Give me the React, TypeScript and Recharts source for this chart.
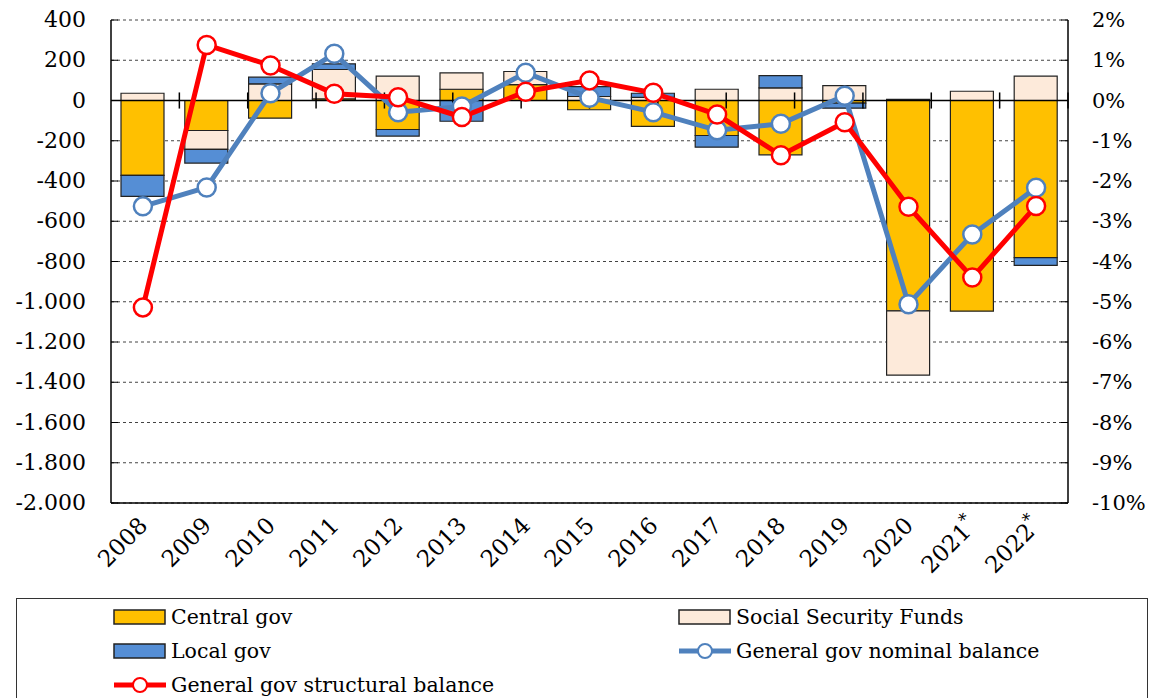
import React from "react";
import {
  ComposedChart,
  Bar,
  Line,
  XAxis,
  YAxis,
  CartesianGrid,
  ReferenceLine,
} from "recharts";

const years = ["2008", "2009", "2010", "2011", "2012", "2013", "2014", "2015", "2016", "2017", "2018", "2019", "2020", "2021*", "2022*"];
const centralGov = [-372, -149, -88, 8, -144, 56, 79, -46, -129, -174, -270, -13, -1045, -1047, -781];
const socialFunds = [36, -94, 83, 146, 121, 81, 65, 20, 16, 56, 63, 74, -320, 46, 121];
const localGov = [-104, -68, 33, 28, -33, -103, 0, 49, 20, -58, 61, -25, 6, 0, -38];
const nominalBal = [-2.63, -2.16, 0.18, 1.16, -0.29, -0.15, 0.69, 0.07, -0.29, -0.74, -0.58, 0.12, -5.06, -3.33, -2.17];
const structuralBal = [-5.14, 1.38, 0.87, 0.17, 0.08, -0.41, 0.22, 0.5, 0.19, -0.35, -1.36, -0.54, -2.64, -4.4, -2.62];

const leftTicks = [400, 200, 0, -200, -400, -600, -800, -1000, -1200, -1400, -1600, -1800, -2000];
const rightTicks = [2, 1, 0, -1, -2, -3, -4, -5, -6, -7, -8, -9, -10];
const boundaries = [1, 2, 3, 4, 5, 6, 7, 8, 9, 10, 11, 12, 13, 14];

const FONT = "'DejaVu Serif', serif";
const C_CENTRAL = "#FFC000";
const C_SOCIAL = "#FDEADA";
const C_LOCAL = "#558ED5";
const C_NOMINAL = "#4F81BD";
const C_STRUCT = "#FF0000";

const data = years.map((y, i) => ({
  year: y,
  central: centralGov[i],
  social: socialFunds[i],
  local: localGov[i],
  nominal: nominalBal[i],
  structural: structuralBal[i],
}));

const fmtThousands = (v: number) => {
  const s = String(Math.abs(v)).replace(/\B(?=(\d{3})+(?!\d))/g, ".");
  return v < 0 ? `-${s}` : s;
};

const LeftTick = ({ x, y, payload }: any) => (
  <g>
    <line x1={x + 25} x2={x + 32} y1={y} y2={y} stroke="#000" />
    <text x={x} y={y} dy={7} textAnchor="end" fontFamily={FONT} fontSize={22} fill="#000">
      {fmtThousands(payload.value)}
    </text>
  </g>
);

const RightTick = ({ x, y, payload }: any) => (
  <g>
    <line x1={x - 24} x2={x - 31} y1={y} y2={y} stroke="#000" />
    <text x={x} y={y} dy={7} textAnchor="start" fontFamily={FONT} fontSize={21} fill="#000">
      {`${payload.value}%`}
    </text>
  </g>
);

const YearTick = ({ x, y, payload }: any) => {
  const label = String(payload.value);
  const star = label.endsWith("*");
  const base = star ? label.slice(0, -1) : label;
  const tx = x + 6;
  const ty = y + 24;
  return (
    <text
      x={tx}
      y={ty}
      textAnchor="end"
      transform={`rotate(-45, ${tx}, ${ty})`}
      fontFamily={FONT}
      fontSize={23}
      fill="#000"
    >
      {base}
      {star && (
        <tspan fontSize={17} dy={-10}>
          *
        </tspan>
      )}
    </text>
  );
};

const Dot = (color: string) => (props: any) => {
  const { cx, cy, index } = props;
  if (cx == null || cy == null) return null;
  return <circle key={index} cx={cx} cy={cy} r={9} fill="#fff" stroke={color} strokeWidth={2.5} />;
};

const Swatch = ({ fill }: { fill: string }) => (
  <svg width={54} height={18} style={{ verticalAlign: "middle" }}>
    <rect x={1} y={2} width={51} height={14} fill={fill} stroke="#222" strokeWidth={1.5} />
  </svg>
);

const LineSwatch = ({ color }: { color: string }) => (
  <svg width={54} height={18} style={{ verticalAlign: "middle" }}>
    <line x1={1} x2={53} y1={9} y2={9} stroke={color} strokeWidth={5} />
    <circle cx={27} cy={9} r={7} fill="#fff" stroke={color} strokeWidth={2} />
  </svg>
);

const legendItem = (left: number, top: number, icon: React.ReactNode, text: string) => (
  <div
    style={{
      position: "absolute",
      left,
      top,
      display: "flex",
      alignItems: "center",
      gap: 4,
      fontFamily: FONT,
      fontSize: 20.5,
      color: "#000",
      whiteSpace: "nowrap",
    }}
  >
    {icon}
    <span>{text}</span>
  </div>
);

export default function App() {
  return (
    <div style={{ position: "absolute", left: 0, top: 0, width: 1156, height: 698, background: "#fff", overflow: "hidden" }}>
      <ComposedChart
        width={1156}
        height={698}
        data={data}
        stackOffset="sign"
        margin={{ top: 20, right: 8, bottom: 105, left: 11 }}
      >
        <CartesianGrid
          xAxisId="cat"
          yAxisId="left"
          vertical={false}
          stroke="#444"
          strokeDasharray="3 3"
        />
        <XAxis
          xAxisId="cat"
          dataKey="year"
          interval={0}
          height={90}
          tickSize={0}
          tickMargin={0}
          axisLine={{ stroke: "#000", strokeWidth: 1.5 }}
          tick={<YearTick />}
        />
        <XAxis
          xAxisId="num"
          type="number"
          domain={[0, 15]}
          orientation="top"
          height={0}
          tick={false}
          tickLine={false}
          axisLine={{ stroke: "#000", strokeWidth: 1.5 }}
        />
        <YAxis
          yAxisId="left"
          domain={[-2000, 400]}
          ticks={leftTicks}
          width={100}
          tickSize={0}
          tickMargin={25}
          axisLine={{ stroke: "#000", strokeWidth: 1.5 }}
          tick={<LeftTick />}
        />
        <YAxis
          yAxisId="right"
          orientation="right"
          domain={[-10, 2]}
          ticks={rightTicks}
          width={80}
          tickSize={0}
          tickMargin={24}
          axisLine={{ stroke: "#000", strokeWidth: 1.5 }}
          tick={<RightTick />}
        />
        <Bar xAxisId="cat" yAxisId="left" dataKey="central" stackId="a" fill={C_CENTRAL} stroke="#222" strokeWidth={1.2} barSize={43} isAnimationActive={false} />
        <Bar xAxisId="cat" yAxisId="left" dataKey="social" stackId="a" fill={C_SOCIAL} stroke="#222" strokeWidth={1.2} barSize={43} isAnimationActive={false} />
        <Bar xAxisId="cat" yAxisId="left" dataKey="local" stackId="a" fill={C_LOCAL} stroke="#222" strokeWidth={1.2} barSize={43} isAnimationActive={false} />
        <ReferenceLine xAxisId="cat" yAxisId="left" y={0} stroke="#000" strokeWidth={1.5} />
        {boundaries.map((b) => (
          <ReferenceLine
            key={b}
            xAxisId="num"
            yAxisId="left"
            segment={[{ x: b, y: 40 }, { x: b, y: -40 }]}
            stroke="#000"
            strokeWidth={1.5}
          />
        ))}
        <Line
          xAxisId="cat"
          yAxisId="right"
          dataKey="nominal"
          stroke={C_NOMINAL}
          strokeWidth={5}
          dot={Dot(C_NOMINAL)}
          activeDot={false}
          isAnimationActive={false}
        />
        <Line
          xAxisId="cat"
          yAxisId="right"
          dataKey="structural"
          stroke={C_STRUCT}
          strokeWidth={5}
          dot={Dot(C_STRUCT)}
          activeDot={false}
          isAnimationActive={false}
        />
      </ComposedChart>
      <div
        style={{
          position: "absolute",
          left: 16,
          top: 598,
          width: 1132,
          height: 110,
          border: "1.5px solid #333",
          boxSizing: "border-box",
        }}
      >
        {legendItem(96, 6, <Swatch fill={C_CENTRAL} />, "Central gov")}
        {legendItem(661, 6, <Swatch fill={C_SOCIAL} />, "Social Security Funds")}
        {legendItem(96, 40, <Swatch fill={C_LOCAL} />, "Local gov")}
        {legendItem(661, 40, <LineSwatch color={C_NOMINAL} />, "General gov nominal balance")}
        {legendItem(96, 74, <LineSwatch color={C_STRUCT} />, "General gov structural balance")}
      </div>
    </div>
  );
}
